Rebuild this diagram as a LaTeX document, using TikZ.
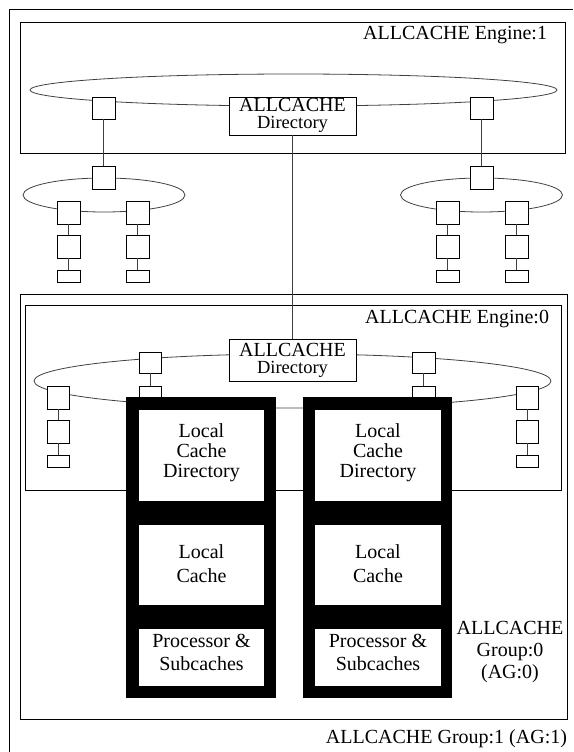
\documentclass[tikz,border=0pt]{standalone}
\usepackage{fontspec}
\setmainfont{Liberation Serif}
\usetikzlibrary{shapes.geometric}
\begin{document}
\begin{tikzpicture}[x=1pt,y=-1pt,
  every node/.style={inner sep=0pt, outer sep=0pt},
  txt/.style={font=\fontsize{20}{24}\selectfont, anchor=base},
  txts/.style={font=\fontsize{18.5}{22}\selectfont, anchor=base},
  frame/.style={draw=black, line width=1pt},
  sq/.style={draw=black, fill=white, line width=0.9pt, minimum width=23pt, minimum height=22pt},
  flat/.style={sq, minimum height=12pt},
  ring/.style={ellipse, draw=black!75, line width=0.8pt},
  link/.style={draw=black!75, line width=0.9pt},
  col/.style={fill=black, draw=none},
  cell/.style={fill=white, draw=none, minimum width=125pt},
]
\useasboundingbox (0,0) rectangle (573,752);
% outer frame (AG:1)
\coordinate (ofTL) at (9,10);
\coordinate (ofBL) at (9,752);
\coordinate (ofTR) at (573,10);
\draw[frame] (ofBL) -- (ofTL) -- (ofTR);
% boxes
\node[frame, minimum width=545pt, minimum height=130pt] (eng1) at (292.5,88) {};
\node[frame, minimum width=547pt, minimum height=425pt] (grp0) at (293.5,506.5) {};
\node[frame, minimum width=536pt, minimum height=185pt] (eng0) at (293,397.5) {};
% rings
\node[ring, minimum width=527pt, minimum height=32pt] (ring1) at (293.5,90) {};
\node[ring, minimum width=162pt, minimum height=34pt] (ringL) at (104,195) {};
\node[ring, minimum width=162pt, minimum height=34pt] (ringR) at (481.5,195) {};
\node[ring, minimum width=517pt, minimum height=54pt] (ring2) at (292.5,381) {};
% engine 1 ring members
\node[sq] (t1L) at (103.5,108) {};
\node[sq] (t1R) at (481.5,108) {};
\node[sq, minimum width=127pt, minimum height=38pt] (dir1) at (292.5,116) {};
% left small ring
\node[sq, minimum height=23pt] (lTop) at (103.5,177.5) {};
\node[sq, minimum height=23pt] (lA1) at (68.5,212.5) {};
\node[sq, minimum height=23pt] (lB1) at (137.5,212.5) {};
\node[sq, minimum height=23pt] (lA2) at (68.5,246.5) {};
\node[sq, minimum height=23pt] (lB2) at (137.5,246.5) {};
\node[flat] (lA3) at (68.5,276) {};
\node[flat] (lB3) at (137.5,276) {};
% right small ring
\node[sq, minimum height=23pt] (rTop) at (481.5,177.5) {};
\node[sq, minimum height=23pt] (rA1) at (447.5,212.5) {};
\node[sq, minimum height=23pt] (rB1) at (516.5,212.5) {};
\node[sq, minimum height=23pt] (rA2) at (447.5,246.5) {};
\node[sq, minimum height=23pt] (rB2) at (516.5,246.5) {};
\node[flat] (rA3) at (447.5,276) {};
\node[flat] (rB3) at (516.5,276) {};
% engine 0 ring members
\node[sq, minimum width=127pt, minimum height=42pt] (dir2) at (292.5,360) {};
\node[sq, minimum width=22pt, minimum height=21pt] (u2L) at (150,362.5) {};
\node[sq, minimum width=22pt, minimum height=22pt] (u2Lb) at (150,397) {};
\node[sq, minimum width=23pt, minimum height=21pt] (u2R) at (423.5,362.5) {};
\node[sq, minimum width=23pt, minimum height=22pt] (u2Rb) at (423.5,397) {};
\node[sq, minimum width=22pt, minimum height=23pt] (s2L1) at (58,397.5) {};
\node[sq, minimum width=22pt, minimum height=23pt] (s2L2) at (58,431.5) {};
\node[flat, minimum width=22pt] (s2L3) at (58,461) {};
\node[sq, minimum width=22pt, minimum height=23pt] (s2R1) at (527,397.5) {};
\node[sq, minimum width=22pt, minimum height=23pt] (s2R2) at (527,431.5) {};
\node[flat, minimum width=22pt] (s2R3) at (527,461) {};
% links
\draw[link] (t1L.south) -- (lTop.north);
\draw[link] (t1R.south) -- (rTop.north);
\draw[link] (dir1.south) -- (dir2.north);
\draw[link] (lA1.south) -- (lA2.north);
\draw[link] (lA2.south) -- (lA3.north);
\draw[link] (lB1.south) -- (lB2.north);
\draw[link] (lB2.south) -- (lB3.north);
\draw[link] (rA1.south) -- (rA2.north);
\draw[link] (rA2.south) -- (rA3.north);
\draw[link] (rB1.south) -- (rB2.north);
\draw[link] (rB2.south) -- (rB3.north);
\draw[link] (u2L.south) -- (u2Lb.north);
\draw[link] (u2R.south) -- (u2Rb.north);
\draw[link] (s2L1.south) -- (s2L2.north);
\draw[link] (s2L2.south) -- (s2L3.north);
\draw[link] (s2R1.south) -- (s2R2.north);
\draw[link] (s2R2.south) -- (s2R3.north);
% processor columns
\node[col, minimum width=150pt, minimum height=301pt] (colL) at (201,547.5) {};
\node[col, minimum width=149pt, minimum height=301pt] (colR) at (377.5,547.5) {};
\node[cell, minimum height=91pt] (lcdL) at (201.5,455.5) {};
\node[cell, minimum height=80pt] (lcL) at (201.5,565) {};
\node[cell, minimum height=57pt] (psL) at (201.5,657.5) {};
\node[cell, minimum width=126pt, minimum height=91pt] (lcdR) at (378,455.5) {};
\node[cell, minimum width=126pt, minimum height=80pt] (lcR) at (378,565) {};
\node[cell, minimum width=126pt, minimum height=57pt] (psR) at (378,657.5) {};
% texts
\node[txt, anchor=base east] (te1) at (547,40) {ALLCACHE Engine:1};
\node[txt, anchor=base east] (te0) at (549,323) {ALLCACHE Engine:0};
\node[txt] (d1a) at (292.5,111.5) {ALLCACHE};
\node[txts] (d1b) at (292.5,128) {Directory};
\node[txt] (d2a) at (292.5,356.5) {ALLCACHE};
\node[txts] (d2b) at (292.5,373) {Directory};
\node[txt] (lcdL1) at (201.5,437) {Local};
\node[txt] (lcdL2) at (201.5,457) {Cache};
\node[txt] (lcdL3) at (201.5,477) {Directory};
\node[txt] (lcdR1) at (378,437) {Local};
\node[txt] (lcdR2) at (378,457) {Cache};
\node[txt] (lcdR3) at (378,477) {Directory};
\node[txt] (lcL1) at (201.5,558) {Local};
\node[txt] (lcL2) at (201.5,582) {Cache};
\node[txt] (lcR1) at (378,558) {Local};
\node[txt] (lcR2) at (378,582) {Cache};
\node[txt] (psL1) at (201.5,647) {Processor \&};
\node[txt] (psL2) at (201.5,670) {Subcaches};
\node[txt] (psR1) at (378,647) {Processor \&};
\node[txt] (psR2) at (378,670) {Subcaches};
\node[txt] (g0a) at (510,634) {ALLCACHE};
\node[txt] (g0b) at (510,656) {Group:0};
\node[txt] (g0c) at (510,678) {(AG:0)};
\node[txt, anchor=base east] (g1) at (567,743) {ALLCACHE Group:1 (AG:1)};
\end{tikzpicture}
\end{document}
